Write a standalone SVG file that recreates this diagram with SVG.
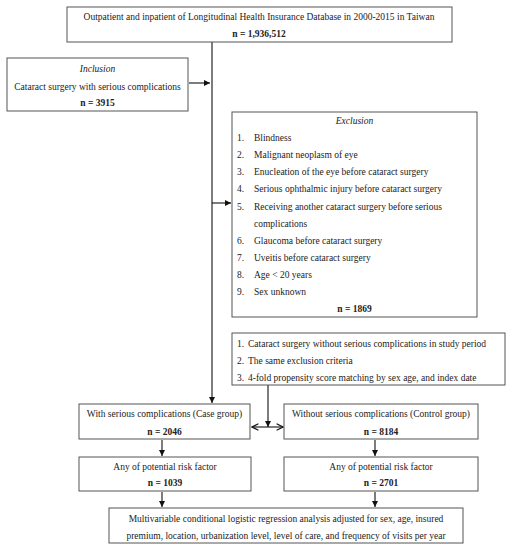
<svg xmlns="http://www.w3.org/2000/svg" width="512" height="550" viewBox="0 0 512 550">
<style>
.box{fill:#fff;stroke:#555;stroke-width:1}
.t{font-family:"Liberation Serif","Times New Roman",serif;font-size:9.5px;fill:#222}
.c{text-anchor:middle}
.b{font-weight:bold}
.i{font-style:italic}
.ln{stroke:#111;stroke-width:1.1;fill:none}
</style>
<defs>
<marker id="ah" viewBox="0 0 10 10" refX="10" refY="5" markerWidth="6" markerHeight="6" orient="auto" markerUnits="userSpaceOnUse">
<path d="M0,0 L10,5 L0,10 z" fill="#111"/>
</marker>
<marker id="oh" viewBox="0 0 10 10" refX="9" refY="5" markerWidth="8" markerHeight="8" orient="auto-start-reverse" markerUnits="userSpaceOnUse">
<path d="M1,1 L9,5 L1,9" fill="none" stroke="#111" stroke-width="1.4"/>
</marker>
</defs>
<rect width="512" height="550" fill="#fff"/>
<g id="connectors">
<line class="ln" x1="212" y1="42" x2="212" y2="403" marker-end="url(#ah)"/>
<line class="ln" x1="189" y1="83" x2="210" y2="83" marker-end="url(#ah)"/>
<line class="ln" x1="212" y1="203" x2="231" y2="203" marker-end="url(#ah)"/>
<line class="ln" x1="268" y1="385" x2="268" y2="427" marker-end="url(#ah)"/>
<line class="ln" x1="252" y1="427" x2="283" y2="427" marker-start="url(#oh)" marker-end="url(#oh)"/>
<line class="ln" x1="162" y1="440" x2="162" y2="456" marker-end="url(#ah)"/>
<line class="ln" x1="375" y1="440" x2="375" y2="456" marker-end="url(#ah)"/>
<line class="ln" x1="162" y1="492" x2="162" y2="507" marker-end="url(#ah)"/>
<line class="ln" x1="375" y1="492" x2="375" y2="507" marker-end="url(#ah)"/>
</g>
<g id="top">
<rect class="box" x="67" y="7" width="385" height="35"/>
<text class="t c" x="259" y="19.5">Outpatient and inpatient of Longitudinal Health Insurance Database in 2000-2015 in Taiwan</text>
<text class="t c b" x="259" y="37">n = 1,936,512</text>
</g>
<g id="inclusion">
<rect class="box" x="7" y="58" width="181" height="53"/>
<text class="t c i" x="97.5" y="72">Inclusion</text>
<text class="t c" x="97.5" y="90">Cataract surgery with serious complications</text>
<text class="t c b" x="97.5" y="105.5">n = 3915</text>
</g>
<g id="exclusion">
<rect class="box" x="232" y="112" width="245" height="205"/>
<text class="t c i" x="354.5" y="124">Exclusion</text>
<text class="t" x="237" y="141">1.</text><text class="t" x="254" y="141">Blindness</text>
<text class="t" x="237" y="158">2.</text><text class="t" x="254" y="158">Malignant neoplasm of eye</text>
<text class="t" x="237" y="175">3.</text><text class="t" x="254" y="175">Enucleation of the eye before cataract surgery</text>
<text class="t" x="237" y="192">4.</text><text class="t" x="254" y="192">Serious ophthalmic injury before cataract surgery</text>
<text class="t" x="237" y="209.5">5.</text><text class="t" x="254" y="209.5">Receiving another cataract surgery before serious</text>
<text class="t" x="254" y="226.5">complications</text>
<text class="t" x="237" y="243.5">6.</text><text class="t" x="254" y="243.5">Glaucoma before cataract surgery</text>
<text class="t" x="237" y="260.5">7.</text><text class="t" x="254" y="260.5">Uveitis before cataract surgery</text>
<text class="t" x="237" y="277.5">8.</text><text class="t" x="254" y="277.5">Age &lt; 20 years</text>
<text class="t" x="237" y="294.5">9.</text><text class="t" x="254" y="294.5">Sex unknown</text>
<text class="t c b" x="354.5" y="311.5">n = 1869</text>
</g>
<g id="matching">
<rect class="box" x="232" y="333" width="273" height="52"/>
<text class="t" x="237" y="347">1.</text><text class="t" x="248" y="347">Cataract surgery without serious complications in study period</text>
<text class="t" x="237" y="364">2.</text><text class="t" x="248" y="364">The same exclusion criteria</text>
<text class="t" x="237" y="381">3.</text><text class="t" x="248" y="381">4-fold propensity score matching by sex age, and index date</text>
</g>
<g id="case">
<rect class="box" x="79" y="404" width="171" height="35"/>
<text class="t c" x="164.5" y="416.5">With serious complications (Case group)</text>
<text class="t c b" x="164.5" y="434.5">n = 2046</text>
</g>
<g id="control">
<rect class="box" x="284" y="404" width="194" height="35"/>
<text class="t c" x="381" y="416.5">Without serious complications (Control group)</text>
<text class="t c b" x="381" y="434.5">n = 8184</text>
</g>
<g id="case-risk">
<rect class="box" x="79" y="457" width="172" height="34"/>
<text class="t c" x="165" y="469.5">Any of potential risk factor</text>
<text class="t c b" x="165" y="485.5">n = 1039</text>
</g>
<g id="control-risk">
<rect class="box" x="284" y="457" width="194" height="34"/>
<text class="t c" x="381" y="469.5">Any of potential risk factor</text>
<text class="t c b" x="381" y="485.5">n = 2701</text>
</g>
<g id="final">
<rect class="box" x="109" y="508" width="354" height="35"/>
<text class="t c" x="286" y="521.5">Multivariable conditional logistic regression analysis adjusted for sex, age, insured</text>
<text class="t c" x="286" y="538.5">premium, location, urbanization level, level of care, and frequency of visits per year</text>
</g>
</svg>
